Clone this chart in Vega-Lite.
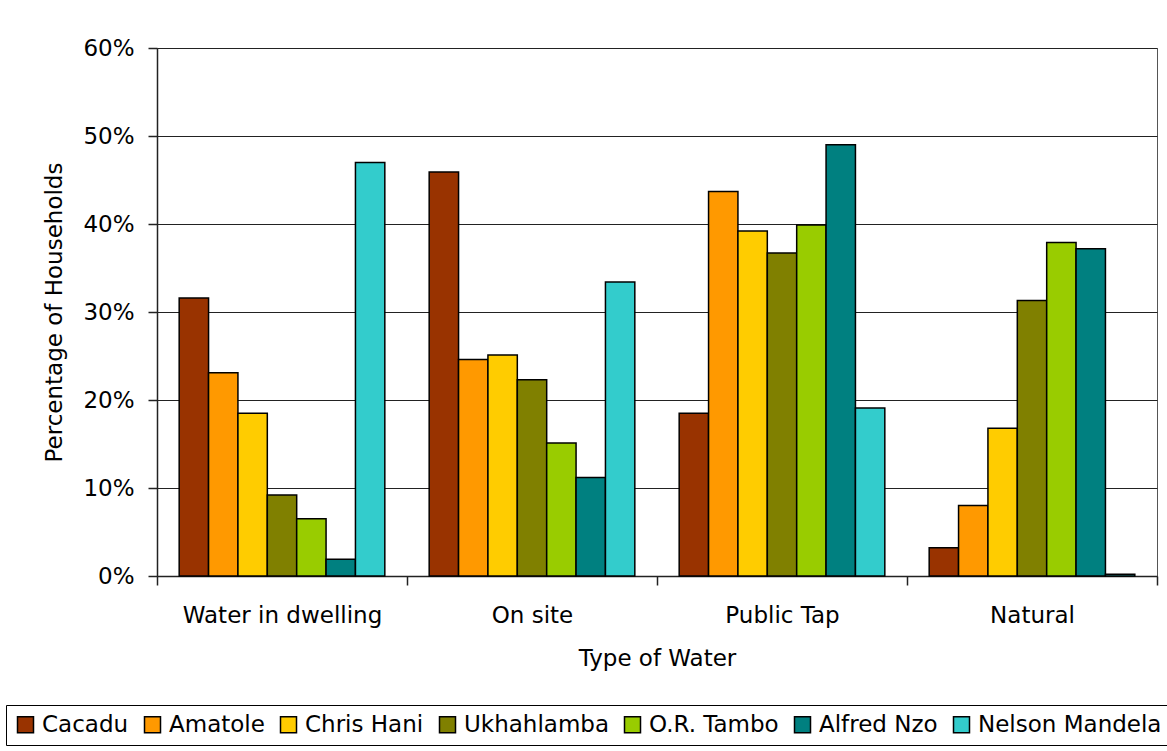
{
  "$schema": "https://vega.github.io/schema/vega-lite/v6.json",
  "width": 1000,
  "height": 528,
  "autosize": {"type": "none"},
  "padding": {"left": 157, "top": 48, "right": 10, "bottom": 175},
  "background": "white",
  "data": {
    "values": [
      {"type": "Water in dwelling", "district": "Cacadu", "share": 0.316},
      {"type": "Water in dwelling", "district": "Amatole", "share": 0.231},
      {"type": "Water in dwelling", "district": "Chris Hani", "share": 0.185},
      {"type": "Water in dwelling", "district": "Ukhahlamba", "share": 0.092},
      {"type": "Water in dwelling", "district": "O.R. Tambo", "share": 0.065},
      {"type": "Water in dwelling", "district": "Alfred Nzo", "share": 0.019},
      {"type": "Water in dwelling", "district": "Nelson Mandela", "share": 0.470},
      {"type": "On site", "district": "Cacadu", "share": 0.459},
      {"type": "On site", "district": "Amatole", "share": 0.246},
      {"type": "On site", "district": "Chris Hani", "share": 0.251},
      {"type": "On site", "district": "Ukhahlamba", "share": 0.223},
      {"type": "On site", "district": "O.R. Tambo", "share": 0.151},
      {"type": "On site", "district": "Alfred Nzo", "share": 0.112},
      {"type": "On site", "district": "Nelson Mandela", "share": 0.334},
      {"type": "Public Tap", "district": "Cacadu", "share": 0.185},
      {"type": "Public Tap", "district": "Amatole", "share": 0.437},
      {"type": "Public Tap", "district": "Chris Hani", "share": 0.392},
      {"type": "Public Tap", "district": "Ukhahlamba", "share": 0.367},
      {"type": "Public Tap", "district": "O.R. Tambo", "share": 0.399},
      {"type": "Public Tap", "district": "Alfred Nzo", "share": 0.490},
      {"type": "Public Tap", "district": "Nelson Mandela", "share": 0.191},
      {"type": "Natural", "district": "Cacadu", "share": 0.032},
      {"type": "Natural", "district": "Amatole", "share": 0.080},
      {"type": "Natural", "district": "Chris Hani", "share": 0.168},
      {"type": "Natural", "district": "Ukhahlamba", "share": 0.313},
      {"type": "Natural", "district": "O.R. Tambo", "share": 0.379},
      {"type": "Natural", "district": "Alfred Nzo", "share": 0.372},
      {"type": "Natural", "district": "Nelson Mandela", "share": 0.002}
    ]
  },
  "mark": {"type": "bar", "stroke": "black", "strokeWidth": 1.5},
  "encoding": {
    "x": {
      "field": "type",
      "type": "nominal",
      "sort": ["Water in dwelling", "On site", "Public Tap", "Natural"],
      "scale": {"paddingInner": 0, "paddingOuter": 0},
      "title": "Type of Water",
      "axis": {
        "labelAngle": 0,
        "labelLimit": 0,
        "tickBand": "extent",
        "tickSize": 9,
        "labelPadding": 19,
        "titlePadding": 20,
        "grid": false
      }
    },
    "xOffset": {
      "field": "district",
      "type": "nominal",
      "sort": ["Cacadu", "Amatole", "Chris Hani", "Ukhahlamba", "O.R. Tambo", "Alfred Nzo", "Nelson Mandela"],
      "scale": {"paddingInner": 0, "paddingOuter": 0.755}
    },
    "y": {
      "field": "share",
      "type": "quantitative",
      "scale": {"domain": [0, 0.6], "nice": false},
      "title": "Percentage of Households",
      "axis": {
        "format": ".0%",
        "values": [0, 0.1, 0.2, 0.3, 0.4, 0.5, 0.6],
        "grid": true,
        "tickSize": 9,
        "labelPadding": 14,
        "titlePadding": 16
      }
    },
    "color": {
      "field": "district",
      "type": "nominal",
      "sort": ["Cacadu", "Amatole", "Chris Hani", "Ukhahlamba", "O.R. Tambo", "Alfred Nzo", "Nelson Mandela"],
      "scale": {
        "domain": ["Cacadu", "Amatole", "Chris Hani", "Ukhahlamba", "O.R. Tambo", "Alfred Nzo", "Nelson Mandela"],
        "range": ["#993300", "#FF9900", "#FFCC00", "#808000", "#99CC00", "#008080", "#33CCCC"]
      },
      "legend": {
        "title": null,
        "orient": "none",
        "direction": "horizontal",
        "legendX": -151,
        "legendY": 657,
        "padding": 8,
        "strokeColor": "black",
        "symbolType": "square",
        "symbolSize": 256,
        "symbolStrokeColor": "black",
        "symbolStrokeWidth": 1.5,
        "symbolOpacity": 1,
        "labelFontSize": 23,
        "labelColor": "black",
        "labelOffset": 5,
        "labelLimit": 400,
        "columnPadding": 12
      }
    }
  },
  "config": {
    "font": "DejaVu Sans",
    "view": {"stroke": "#555", "strokeWidth": 1},
    "axis": {
      "labelFontSize": 23,
      "labelColor": "black",
      "titleFontSize": 23,
      "titleFontWeight": "normal",
      "titleColor": "black",
      "domainColor": "#222",
      "domainWidth": 1.5,
      "tickColor": "#222",
      "tickWidth": 1.5,
      "gridColor": "#222",
      "gridWidth": 1,
      "gridOpacity": 1
    }
  }
}
